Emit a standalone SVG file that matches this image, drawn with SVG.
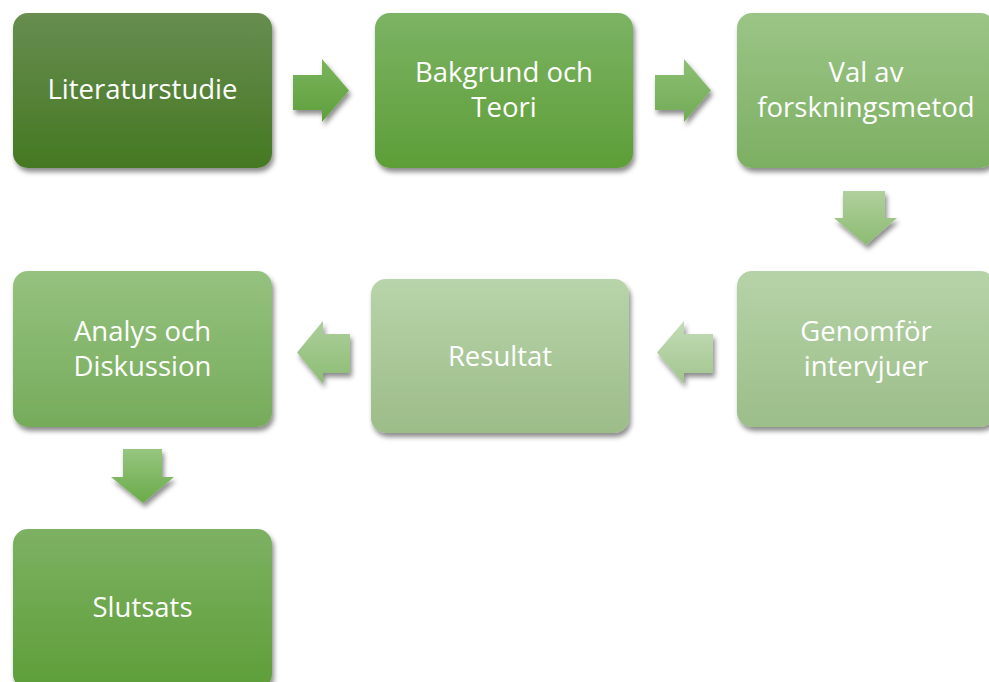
<svg xmlns="http://www.w3.org/2000/svg" width="989" height="682" viewBox="0 0 989 682">
<defs>
<filter id="sh" x="-10%" y="-10%" width="125%" height="130%">
<feDropShadow dx="2" dy="4" stdDeviation="2.5" flood-color="#000" flood-opacity="0.45"/>
</filter>
<linearGradient id="g1" x1="0" y1="0" x2="0" y2="1"><stop offset="0" stop-color="#678d50"/><stop offset="1" stop-color="#457822"/></linearGradient>
<linearGradient id="g2" x1="0" y1="0" x2="0" y2="1"><stop offset="0" stop-color="#7cb364"/><stop offset="1" stop-color="#5d9e37"/></linearGradient>
<linearGradient id="g3" x1="0" y1="0" x2="0" y2="1"><stop offset="0" stop-color="#9bc586"/><stop offset="1" stop-color="#7daf62"/></linearGradient>
<linearGradient id="g4" x1="0" y1="0" x2="0" y2="1"><stop offset="0" stop-color="#b6d3a8"/><stop offset="1" stop-color="#9cbe89"/></linearGradient>
<linearGradient id="g5" x1="0" y1="0" x2="0" y2="1"><stop offset="0" stop-color="#b8d4aa"/><stop offset="1" stop-color="#9cbc88"/></linearGradient>
<linearGradient id="g6" x1="0" y1="0" x2="0" y2="1"><stop offset="0" stop-color="#95c27f"/><stop offset="1" stop-color="#76ab5b"/></linearGradient>
<linearGradient id="g7" x1="0" y1="0" x2="0" y2="1"><stop offset="0" stop-color="#7db163"/><stop offset="1" stop-color="#5e9e38"/></linearGradient>
<linearGradient id="a1" x1="0" y1="0" x2="0" y2="1"><stop offset="0" stop-color="#7ab45d"/><stop offset="1" stop-color="#5f9f3b"/></linearGradient>
<linearGradient id="a2" x1="0" y1="0" x2="0" y2="1"><stop offset="0" stop-color="#8cbf73"/><stop offset="1" stop-color="#72ab56"/></linearGradient>
<linearGradient id="a3" x1="0" y1="0" x2="0" y2="1"><stop offset="0" stop-color="#b0d09c"/><stop offset="1" stop-color="#8cbb73"/></linearGradient>
<linearGradient id="a4" x1="0" y1="0" x2="0" y2="1"><stop offset="0" stop-color="#c3dcb6"/><stop offset="1" stop-color="#a2c58f"/></linearGradient>
<linearGradient id="a5" x1="0" y1="0" x2="0" y2="1"><stop offset="0" stop-color="#acce9b"/><stop offset="1" stop-color="#8dbd74"/></linearGradient>
<linearGradient id="a6" x1="0" y1="0" x2="0" y2="1"><stop offset="0" stop-color="#97c57f"/><stop offset="1" stop-color="#6aab49"/></linearGradient>
</defs>
<style>
.box{filter:url(#sh)}
.t{font-family:"Open Sans","Liberation Sans",sans-serif;font-size:27.5px;fill:#fff;text-anchor:middle}
.arr{filter:url(#sh)}
</style>
<rect width="989" height="682" fill="#fff"/>
<g id="connectors">
<path class="arr" fill="url(#a1)" d="M293,75 H322 V59 L349,90.5 L322,122 V110 H293 Z"/>
<path class="arr" fill="url(#a2)" d="M655,75 H684 V59 L711,90.5 L684,122 V110 H655 Z"/>
<path class="arr" fill="url(#a3)" d="M843,191 H885 V218 H897 L866,245 L834,218 H843 Z"/>
<path class="arr" fill="url(#a4)" d="M713,334 H684 V321 L657,352.5 L684,384 V373 H713 Z"/>
<path class="arr" fill="url(#a5)" d="M350,334 H323 V321 L297,352.5 L323,384 V373 H350 Z"/>
<path class="arr" fill="url(#a6)" d="M123,449 H162 V477 H174 L143,503 L111,477 H123 Z"/>
</g>
<g id="n1"><rect class="box" x="13" y="13" width="259" height="155" rx="15" fill="url(#g1)"/><text class="t" x="142.5" y="99">Literaturstudie</text></g>
<g id="n2"><rect class="box" x="375" y="13" width="258" height="155" rx="15" fill="url(#g2)"/><text class="t" x="504" y="82">Bakgrund och</text><text class="t" x="504" y="116.5">Teori</text></g>
<g id="n3"><rect class="box" x="737" y="13" width="258" height="155" rx="15" fill="url(#g3)"/><text class="t" x="866" y="82">Val av</text><text class="t" x="866" y="116.5">forskningsmetod</text></g>
<g id="n4"><rect class="box" x="737" y="271" width="258" height="156" rx="15" fill="url(#g4)"/><text class="t" x="866" y="341">Genomför</text><text class="t" x="866" y="375.5">intervjuer</text></g>
<g id="n5"><rect class="box" x="371" y="279" width="258" height="154" rx="15" fill="url(#g5)"/><text class="t" x="500" y="366">Resultat</text></g>
<g id="n6"><rect class="box" x="13" y="271" width="259" height="156" rx="15" fill="url(#g6)"/><text class="t" x="142.5" y="341">Analys och</text><text class="t" x="142.5" y="375.5">Diskussion</text></g>
<g id="n7"><rect class="box" x="13" y="529" width="259" height="160" rx="15" fill="url(#g7)"/><text class="t" x="142.5" y="617">Slutsats</text></g>
</svg>
